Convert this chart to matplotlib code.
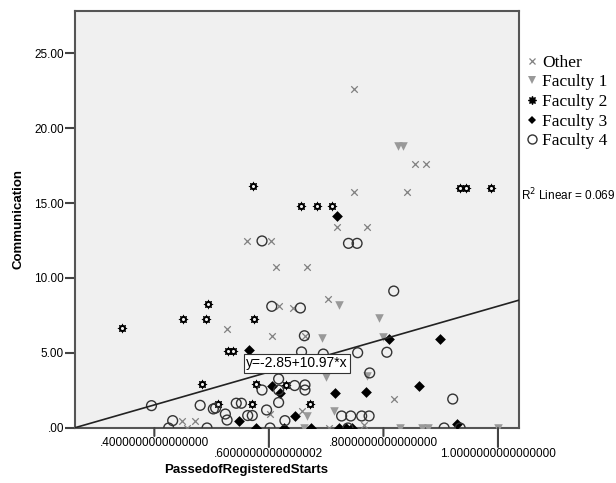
import matplotlib
matplotlib.use("Agg")
import matplotlib.pyplot as plt
from matplotlib.lines import Line2D

# Data (x = passed share, y = communication)
other_x = [0.749, 0.856, 0.874, 0.749, 0.841, 0.719, 0.772, 0.561, 0.603, 0.613,
           0.667, 0.703, 0.618, 0.642, 0.526, 0.605, 0.663, 0.819, 0.658, 0.602,
           0.448, 0.471, 0.457, 0.705, 0.766]
other_y = [22.62, 17.58, 17.58, 15.71, 15.71, 13.42, 13.42, 12.47, 12.47, 10.75,
           10.75, 8.58, 8.13, 8.02, 6.58, 6.15, 6.15, 1.93, 1.13, 0.91,
           0.47, 0.47, 0.0, 0.0, 0.2]

fac1_x = [0.826, 0.834, 0.723, 0.792, 0.692, 0.799, 0.700, 0.771, 0.666, 0.713,
          0.662, 0.829, 0.867, 0.877, 1.0]
fac1_y = [18.8, 18.8, 8.2, 7.35, 6.02, 6.09, 3.42, 3.49, 0.8, 1.15,
          0.0, 0.0, 0.0, 0.0, 0.0]

fac2_x = [0.573, 0.934, 0.944, 0.988, 0.656, 0.684, 0.711, 0.494, 0.450, 0.490,
          0.574, 0.344, 0.528, 0.537, 0.483, 0.577, 0.630, 0.512, 0.571, 0.672]
fac2_y = [16.15, 15.98, 15.98, 15.98, 14.78, 14.78, 14.78, 8.25, 7.25, 7.25,
          7.27, 6.65, 5.13, 5.13, 2.91, 2.91, 2.87, 1.62, 1.6, 1.6]

fac3_x = [0.719, 0.566, 0.809, 0.899, 0.862, 0.606, 0.620, 0.716, 0.770, 0.547,
          0.645, 0.929, 0.578, 0.627, 0.674, 0.722, 0.735, 0.746]
fac3_y = [14.15, 5.18, 5.91, 5.91, 2.8, 2.83, 2.31, 2.31, 2.38, 0.45,
          0.8, 0.27, 0.0, 0.0, 0.0, 0.0, 0.0, 0.0]

fac4_x = [0.588, 0.739, 0.754, 0.818, 0.605, 0.655, 0.662, 0.657, 0.695, 0.755,
          0.806, 0.776, 0.617, 0.645, 0.663, 0.663, 0.588, 0.617, 0.921, 0.395,
          0.480, 0.503, 0.507, 0.524, 0.527, 0.543, 0.552, 0.563, 0.571, 0.596,
          0.617, 0.628, 0.727, 0.743, 0.762, 0.775, 0.432, 0.425, 0.492, 0.602,
          0.738, 0.906, 0.934]
fac4_y = [12.47, 12.31, 12.31, 9.13, 8.11, 8.0, 6.15, 5.07, 4.93, 5.02,
          5.05, 3.67, 3.27, 2.83, 2.87, 2.53, 2.53, 2.53, 1.93, 1.49,
          1.51, 1.27, 1.33, 0.93, 0.53, 1.65, 1.65, 0.83, 0.83, 1.2,
          1.7, 0.49, 0.8, 0.8, 0.8, 0.8, 0.49, 0.0, 0.0, 0.0,
          0.0, 0.0, 0.0]

intercept, slope = -2.85, 10.97
r2 = 0.069

xticks = [0.4, 0.6, 0.8, 1.0]
xtick_labels = [".4000000000000000", ".6000000000000002",
                ".8000000000000000", "1.0000000000000000"]
yticks = [0, 5, 10, 15, 20, 25]
ytick_labels = [".00", "5.00", "10.00", "15.00", "20.00", "25.00"]

sans = "Liberation Sans"
serif = "Liberation Serif"

fig = plt.figure(figsize=(6.16, 4.83), dpi=100)
ax = fig.add_axes([0.1218, 0.1139, 0.7207, 0.8633])
ax.set_facecolor("#f0f0f0")
ax.set_xlim(0.2615, 1.0367)
ax.set_ylim(0, 27.8)

# groups
ax.scatter(other_x, other_y, marker="x", s=22, color="#808080", linewidths=0.9, zorder=3)
ax.scatter(fac1_x, fac1_y, marker="v", s=38, color="#999999", linewidths=0, zorder=3)
ax.scatter(fac2_x, fac2_y, marker="o", s=26, color="black", linewidths=0, zorder=3)
ax.scatter(fac2_x, fac2_y, marker=(8, 1, 0), s=44, color="black", linewidths=0.4, zorder=3)
ax.scatter(fac2_x, fac2_y, marker="o", s=5, color="#f0f0f0", linewidths=0, zorder=3.1)
ax.scatter(fac3_x, fac3_y, marker="D", s=30, color="black", linewidths=0, zorder=3)
ax.scatter(fac4_x, fac4_y, marker="o", s=50, facecolors="none", edgecolors="#333333",
           linewidths=1.0, zorder=3)

# fit line
ax.axline((0, intercept), slope=slope, color="#222222", lw=1.2, zorder=4)
ax.text(0.649, 4.3, f"y={intercept:.2f}+{slope:.2f}*x", fontsize=10, family=sans,
        ha="center", va="center", zorder=5,
        bbox=dict(boxstyle="square,pad=0.15", fc="white", ec="#333333", lw=0.8))

for side in ax.spines.values():
    side.set_color("#555555")
    side.set_linewidth(1.5)

ax.set_yticks(yticks)
ax.set_yticklabels(ytick_labels, fontsize=8.5, family=sans)
ax.tick_params(axis="y", length=7, width=1.5, color="#444444", pad=1)

ax.set_xticks(xticks)
ax.set_xticklabels([])
ax.tick_params(axis="x", length=0)
# staggered x ticks as in the original
for i, (v, lab) in enumerate(zip(xticks, xtick_labels)):
    tick_len = 8 if i % 2 == 0 else 19
    ax.annotate("", xy=(v, 0), xycoords=("data", "axes fraction"),
                xytext=(0, -tick_len), textcoords="offset pixels",
                arrowprops=dict(arrowstyle="-", color="#444444", lw=1.5,
                                shrinkA=0, shrinkB=0), annotation_clip=False)
    ax.annotate(lab, xy=(v, 0), xycoords=("data", "axes fraction"),
                xytext=(0, -(tick_len + 1)), textcoords="offset pixels",
                ha="center", va="top", fontsize=8.5, family=sans,
                annotation_clip=False)

ax.set_ylabel("Communication", fontsize=9.5, fontweight="bold", family=sans, labelpad=7)
fig.text(0.4, 0.027, "PassedofRegisteredStarts", fontsize=9.5, fontweight="bold",
         family=sans, ha="center", va="center")

handles = [
    Line2D([], [], ls="none", marker="x", ms=4.5, mew=0.9, color="#808080"),
    Line2D([], [], ls="none", marker="v", ms=6, mew=0, color="#999999"),
    Line2D([], [], ls="none", marker=(8, 1, 0), ms=6, mew=0.8, color="black"),
    Line2D([], [], ls="none", marker="D", ms=4.5, mew=0, color="black"),
    Line2D([], [], ls="none", marker="o", ms=6.5, mfc="none", mec="#333333", mew=1.0),
]
labels = ["Other", "Faculty 1", "Faculty 2", "Faculty 3", "Faculty 4"]
fig.legend(handles, labels, loc="upper left", bbox_to_anchor=(0.835, 0.905),
           frameon=False, prop={"family": serif, "size": 12.5},
           handletextpad=0.1, handlelength=1.0, labelspacing=0.2, borderpad=0)

fig.text(0.846, 0.596, f"R$^2$ Linear = {r2:.3f}", fontsize=8.5, family=sans,
         ha="left", va="center")

fig.savefig("out.png", dpi=100)
